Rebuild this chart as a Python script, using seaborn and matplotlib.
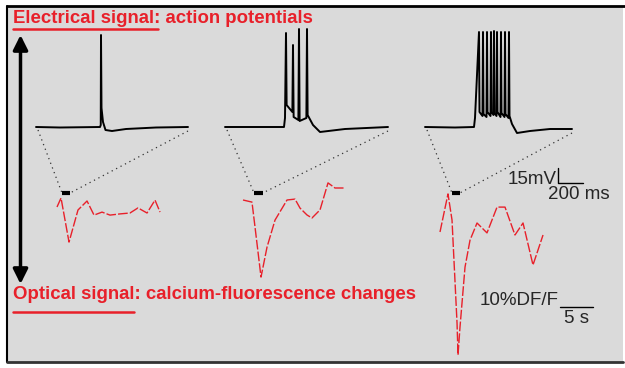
import matplotlib
matplotlib.use('Agg')
import matplotlib.pyplot as plt
import seaborn as sns
from matplotlib.patches import Rectangle

# --- electrical recordings: time (ms), membrane potential (mV) ---
ephys_t1 = [0, 192, 512, 518, 520, 524, 536, 556, 608, 720, 960, 1216]
ephys_v1 = [-65, -65.5, -65, -63, 27, -46, -60, -68, -69, -67, -65.5, -65]

ephys_t2 = [0, 240, 472, 480, 488, 493, 539, 544, 549, 587, 592, 597, 651, 656, 661,
            704, 760, 960, 1304]
ephys_v2 = [-65, -65, -65, -56, 29, -43, -50, 17, -55, -58, 33, -59, -56, 33, -53,
            -63, -70, -67, -65]

ephys_t3 = [0, 240, 392, 400, 432, 436, 460, 464, 468, 492, 496, 500, 524, 528, 532,
            548, 552, 556, 572, 576, 580, 604, 608, 612, 636, 640, 644, 668, 672, 676,
            696, 736, 840, 1000, 1176]
ephys_v3 = [-65, -65.5, -65, -56, 30, -50, -54, 30, -52, -55, 30, -50, -54, 30, -50,
            -53, 31, -51, -54, 30, -50, -55, 30, -51, -55, 30, -52, -56, 30, -54,
            -62, -71, -69, -67, -67]

# --- optical recordings: time (s), fluorescence change (% DF/F) ---
opt_t1 = [0, 0.61, 1.82, 3.18, 4.55, 5.61, 6.82, 8.03, 9.55, 11.06, 12.27, 13.64, 14.85, 15.61]
opt_f1 = [0, 3, -11.7, -1, 2, -2.7, -1.7, -2.7, -2.3, -2, -0.3, -2, 2.3, -1.7]

opt_t2 = [0, 1.36, 1.82, 2.73, 3.64, 4.85, 6.67, 7.88, 8.64, 9.70, 10.45, 11.67, 12.88, 13.94, 15.45]
opt_f2 = [0, -0.7, -9, -25.7, -15.7, -6.7, 0, 0.3, -2.7, -5, -6, -3.3, 5.7, 4, 4]

opt_t3 = [0, 1.21, 1.82, 2.58, 2.73, 3.03, 3.79, 4.55, 5.61, 7.12, 8.64, 9.85, 11.36, 12.58, 14.09, 15.61]
opt_f3 = [0, 12.7, 4, -30.3, -41, -31.7, -11.7, -2.7, 3, -0.3, 8.3, 8.3, -1, 3, -11, -1]

# onset (s) of each electrical sweep on the optical time axis
sweep_onset = [0.76, 1.67, 1.82]

title_top = "Electrical signal: action potentials"
title_bottom = "Optical signal: calcium-fluorescence changes"
scale_mv, scale_ms = 15, 200
scale_pct, scale_s = 10, 5

# layout (pixels)
PX_MS, PX_MV = 0.125, 1.0
PX_S, PX_PCT = 6.6, 3.0
REST = -65
ephys_x0 = [36, 225, 425]
ephys_y0 = 127
opt_x0 = [57, 243, 440]
opt_y0 = [207, 200, 232]
bar_y = 193
RED = '#e8202a'
FONT = 'Liberation Sans'

sns.set_style('white')
fig = plt.figure(figsize=(6.25, 3.68), dpi=100)
ax = fig.add_axes([0, 0, 1, 1])
ax.set_xlim(0, 625)
ax.set_ylim(368, 0)
ax.axis('off')

# panel background and frame
ax.add_patch(Rectangle((7, 6), 616, 356, facecolor='#dadada', edgecolor='none', zorder=0))
ax.plot([7, 625], [6, 6], color='black', lw=2)
ax.plot([7, 7], [6, 362], color='black', lw=1.5)
ax.plot([7, 623], [362, 362], color='#333333', lw=2)

ephys = [(ephys_t1, ephys_v1), (ephys_t2, ephys_v2), (ephys_t3, ephys_v3)]
optic = [(opt_t1, opt_f1), (opt_t2, opt_f2), (opt_t3, opt_f3)]

for i in range(3):
    t, v = ephys[i]
    xs = [ephys_x0[i] + a * PX_MS for a in t]
    ys = [ephys_y0 - (b - REST) * PX_MV for b in v]
    sns.lineplot(x=xs, y=ys, ax=ax, color='black', lw=1.4, sort=False, estimator=None)

    ot, of = optic[i]
    xo = [opt_x0[i] + a * PX_S for a in ot]
    yo = [opt_y0[i] - b * PX_PCT for b in of]
    sns.lineplot(x=xo, y=yo, ax=ax, color=RED, lw=1.0, sort=False, estimator=None,
                 linestyle=(0, (7, 1.5)))

    # sweep window marked on the optical time axis
    b0 = opt_x0[i] + sweep_onset[i] * PX_S
    b1 = b0 + t[-1] / 1000 * PX_S
    ax.plot([b0, b1], [bar_y, bar_y], color='black', lw=3, solid_capstyle='butt')
    ax.plot([xs[0] + 2, b0], [ephys_y0 + 3, bar_y], color='#333333', lw=0.9, ls=(0, (1, 3)))
    ax.plot([xs[-1], b1], [ys[-1] + 4, bar_y], color='#333333', lw=0.9, ls=(0, (1, 3)))

# electrical scale bar
sx, sy = 558, 183
ax.plot([sx, sx, sx + scale_ms * PX_MS], [sy - scale_mv * PX_MV, sy, sy], color='black', lw=1)
ax.text(sx - 1, 184, f"{scale_mv}mV", ha='right', va='baseline', fontsize=13.5, family=FONT)
ax.text(sx - 10, 199, f"{scale_ms} ms", ha='left', va='baseline', fontsize=13.5, family=FONT)

# optical scale bar
ox, oy = 560, 307
ax.plot([ox, ox + scale_s * PX_S], [oy, oy], color='black', lw=1)
ax.text(ox - 1, 305, f"{scale_pct}%DF/F", ha='right', va='baseline', fontsize=13.5, family=FONT)
ax.text(ox + 16, 323, f"{scale_s} s", ha='center', va='baseline', fontsize=13.5, family=FONT)

# titles
ax.text(13, 23, title_top, color=RED, fontsize=13.4, fontweight='bold', family=FONT, va='baseline')
ax.plot([13, 158], [29, 29], color=RED, lw=1.8)
ax.text(13, 299, title_bottom, color=RED, fontsize=13.4, fontweight='bold', family=FONT, va='baseline')
ax.plot([13, 134], [312, 312], color=RED, lw=1.8)

# double-headed arrow
ax.annotate('', xy=(20.5, 35), xytext=(20.5, 284),
            arrowprops=dict(arrowstyle='<|-|>', color='black', lw=2.5, mutation_scale=22,
                            shrinkA=0, shrinkB=0))

fig.savefig('out.png', dpi=100)
